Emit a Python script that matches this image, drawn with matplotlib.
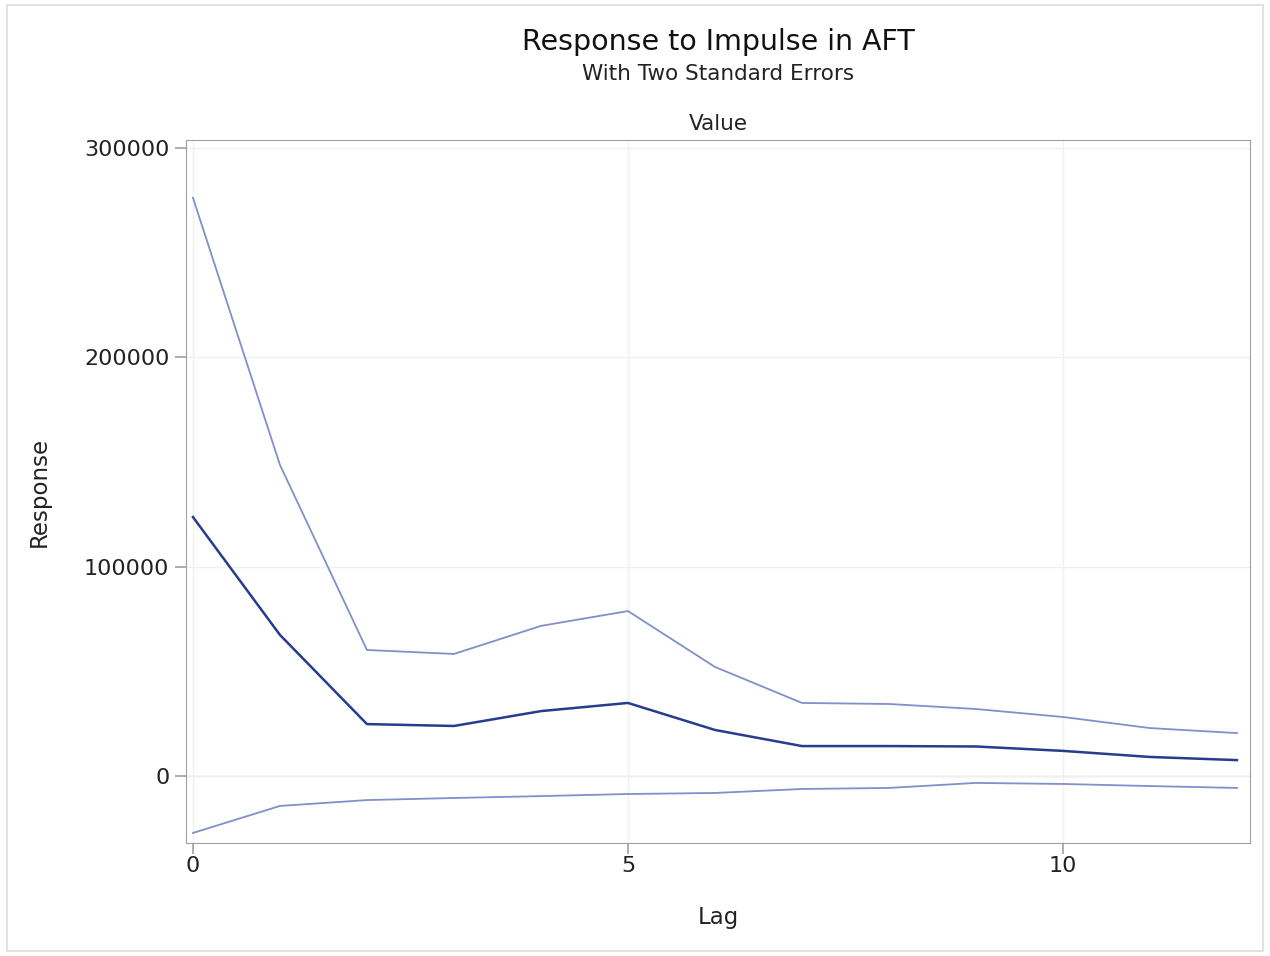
import matplotlib.pyplot as plt
from matplotlib.patches import Rectangle

# Impulse response of AFT with two standard error bands
lag = [0, 1, 2, 3, 4, 5, 6, 7, 8, 9, 10, 11, 12]
response = [123700, 67400, 24800, 23900, 31000, 34900, 22000, 14300, 14300, 14100, 12000, 9100, 7600]
upper = [276200, 148600, 60200, 58300, 71700, 78800, 52100, 34900, 34400, 32000, 28200, 22900, 20500]
lower = [-27200, -14300, -11500, -10500, -9600, -8600, -8100, -6200, -5700, -3300, -3800, -4800, -5700]

fig = plt.figure(figsize=(12.7, 9.56), dpi=100)
ax = fig.add_axes([186 / 1270, 1 - 843 / 956, (1250 - 186) / 1270, (843 - 140) / 956])

band_col = '#8090C8'
ax.plot(lag, upper, color=band_col, lw=1.3)
ax.plot(lag, lower, color=band_col, lw=1.3)
ax.plot(lag, response, color='#283C8C', lw=1.8)

ax.set_xlim(-0.08, 12.15)
ax.set_ylim(-32000, 303800)
ax.set_xticks([0, 5, 10])
ax.set_yticks([0, 100000, 200000, 300000])
ax.set_yticklabels(['0', '100000', '200000', '300000'])
ax.grid(True, color='#F0F0F0', lw=1)
ax.axhline(0, color='#DCDCDC', lw=1, zorder=0)
ax.set_axisbelow(True)
for s in ax.spines.values():
    s.set_color('#A0A0A0')
ax.tick_params(colors='#A0A0A0', labelcolor='#222222', labelsize=16, length=8, width=1.2)
ax.tick_params(axis='x', pad=1)
ax.tick_params(axis='y', pad=4)

ax.set_xlabel('Lag', fontsize=16.5, color='#222222', labelpad=22)
ax.set_ylabel('Response', fontsize=16.5, color='#222222', labelpad=24)
ax.set_title('Value', fontsize=15.5, color='#222222', pad=7)

cx = (186 + 1250) / 2 / 1270
fig.text(cx, 1 - 42 / 956, 'Response to Impulse in AFT', ha='center', va='center', fontsize=20.5, color='#111111')
fig.text(cx, 1 - 74 / 956, 'With Two Standard Errors', ha='center', va='center', fontsize=15.5, color='#222222')

fig.patches.append(Rectangle((7 / 1270, 5 / 956), 1 - 14 / 1270, 1 - 10 / 956, transform=fig.transFigure,
                             fill=False, edgecolor='#DDDDDD', lw=1.2))

fig.savefig('out.png', dpi=100)
